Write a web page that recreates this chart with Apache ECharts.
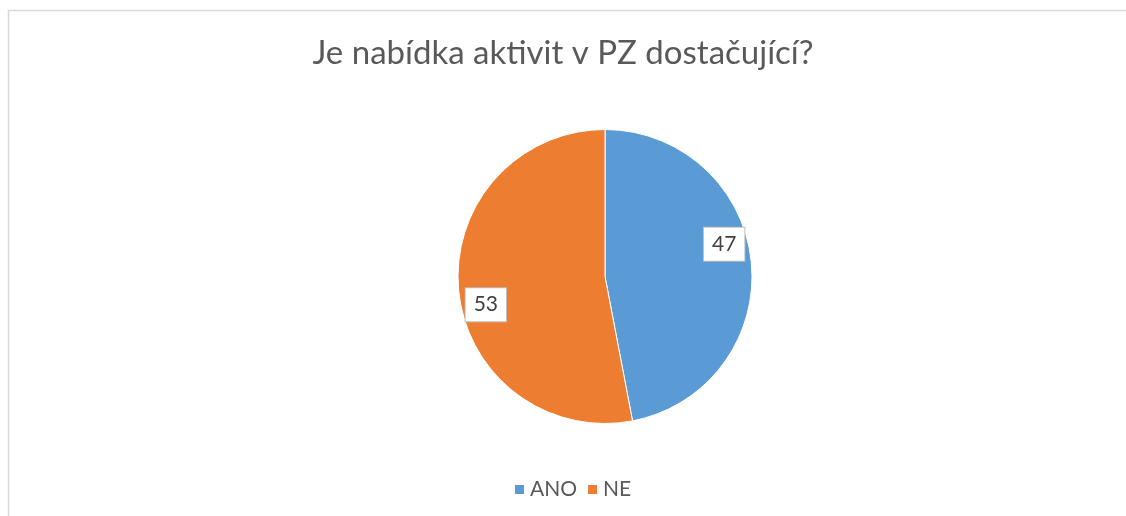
<!DOCTYPE html>
<html>
<head>
<meta charset="utf-8">
<script src="https://cdn.jsdelivr.net/npm/echarts@6/dist/echarts.min.js"></script>
<style>
  html, body { margin: 0; padding: 0; background: #fff; }
  #chart { width: 1126px; height: 516px; }
</style>
</head>
<body>
<div id="chart"></div>
<script>
const titleText = 'Je nabídka aktivit v PZ dostačující?'
const categories = ['ANO', 'NE']
const values = [47, 53]
const colors = ['#5B9BD5', '#ED7D31']

const font = 'Lato, "Open Sans", sans-serif'
const chart = echarts.init(document.getElementById('chart'))

chart.setOption({
  animation: false,
  color: colors,
  graphic: [{
    type: 'rect',
    silent: true,
    shape: { x: 8.5, y: 10.5, width: 1140, height: 540 },
    style: { fill: 'none', stroke: '#d9d9d9', lineWidth: 1.5 }
  }],
  title: {
    text: titleText,
    left: 'center',
    top: 32,
    textStyle: {
      fontFamily: font,
      fontSize: 33,
      fontWeight: 'normal',
      color: '#595959'
    }
  },
  legend: {
    data: categories,
    left: 508,
    top: 474,
    icon: 'rect',
    itemWidth: 11,
    itemHeight: 11,
    itemGap: 9,
    textStyle: {
      fontFamily: font,
      fontSize: 21,
      color: '#595959'
    }
  },
  series: [{
    type: 'pie',
    center: [605, 276.5],
    radius: 147,
    startAngle: 90,
    clockwise: true,
    silent: true,
    itemStyle: { borderColor: '#fff', borderWidth: 1 },
    label: {
      show: true,
      position: 'inside',
      formatter: '{c}',
      fontFamily: font,
      fontSize: 21,
      color: '#404040',
      backgroundColor: '#fff',
      borderColor: '#bfbfbf',
      borderWidth: 1,
      padding: [6, 8]
    },
    // push the labels out toward the rim like the original
    labelLayout(params) {
      const cx = params.labelRect.x + params.labelRect.width / 2
      const right = cx > 605
      return { dx: right ? 43 : -43, dy: right ? -25 : 21 }
    },
    data: categories.map((name, i) => ({ name, value: values[i] }))
  }]
})
</script>
</body>
</html>
